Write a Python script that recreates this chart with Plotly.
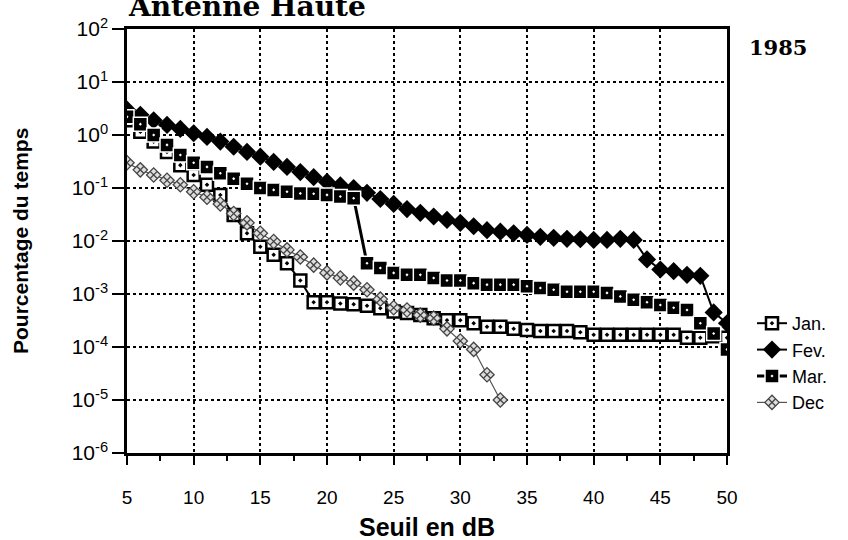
import plotly.graph_objects as go

seuil = list(range(5, 51))
seuil_dec = list(range(5, 34))

jan = [1.9, 1.15, 0.75, 0.48, 0.27, 0.176, 0.115, 0.074, 0.031, 0.014,
       0.0078, 0.0055, 0.0038, 0.0018, 0.0007, 0.0007, 0.00066, 0.00064, 0.0006, 0.00054,
       0.00047, 0.00044, 0.0004, 0.00035, 0.00032, 0.00032, 0.00028, 0.00024, 0.00024, 0.00022,
       0.00021, 0.0002, 0.0002, 0.0002, 0.00019, 0.00017, 0.00017, 0.00017, 0.00017, 0.00017,
       0.00017, 0.00017, 0.00015, 0.00015, 0.00016, 0.00015]

fev = [3.0, 2.4, 1.9, 1.55, 1.3, 1.08, 0.92, 0.75, 0.6, 0.48,
       0.39, 0.31, 0.25, 0.2, 0.16, 0.13, 0.112, 0.1, 0.081, 0.062,
       0.05, 0.04, 0.034, 0.029, 0.025, 0.022, 0.019, 0.016, 0.015, 0.014,
       0.013, 0.012, 0.0115, 0.011, 0.0108, 0.0105, 0.0105, 0.011, 0.0105, 0.0045,
       0.0029, 0.0027, 0.0023, 0.0022, 0.00045, 0.00028]

mar = [2.2, 1.6, 1.0, 0.65, 0.42, 0.3, 0.25, 0.19, 0.15, 0.12,
       0.1, 0.092, 0.085, 0.079, 0.078, 0.074, 0.069, 0.064, 0.0038, 0.0031,
       0.0025, 0.0023, 0.0023, 0.002, 0.0018, 0.0018, 0.0016, 0.0015, 0.0015, 0.0015,
       0.0014, 0.0013, 0.0012, 0.0011, 0.0011, 0.0011, 0.00105, 0.0009, 0.00078, 0.0007,
       0.00062, 0.00055, 0.0005, 0.00028, 0.00018, 0.00009]

dec = [0.3, 0.22, 0.176, 0.14, 0.115, 0.085, 0.067, 0.05, 0.033, 0.022,
       0.014, 0.0098, 0.0068, 0.005, 0.0035, 0.0025, 0.002, 0.0016, 0.0012, 0.0008,
       0.00055, 0.0005, 0.0004, 0.00035, 0.00022, 0.00013, 0.00009, 0.00003, 0.00001]

ytick_vals = [1e-6, 1e-5, 1e-4, 1e-3, 1e-2, 1e-1, 1e0, 1e1, 1e2]
ytick_text = ["10<sup>-6</sup>", "10<sup>-5</sup>", "10<sup>-4</sup>", "10<sup>-3</sup>",
              "10<sup>-2</sup>", "10<sup>-1</sup>", "10<sup>0</sup>", "10<sup>1</sup>", "10<sup>2</sup>"]
xtick_vals = [5, 10, 15, 20, 25, 30, 35, 40, 45, 50]

SANS = "Liberation Sans, Arial, sans-serif"
SERIF = "DejaVu Serif, Liberation Serif, serif"

fig = go.Figure()
fig.add_trace(go.Scatter(
    x=seuil, y=jan, name="Jan.", mode="lines+markers",
    line=dict(color="black", width=2),
    marker=dict(symbol="square-dot", size=12, color="white", line=dict(color="black", width=2.5))))
fig.add_trace(go.Scatter(
    x=seuil, y=fev, name="Fev.", mode="lines+markers",
    line=dict(color="black", width=2),
    marker=dict(symbol="diamond", size=14, color="black", line=dict(color="black", width=0))))
fig.add_trace(go.Scatter(
    x=seuil, y=mar, name="Mar.", mode="lines+markers",
    line=dict(color="black", width=3),
    marker=dict(symbol="square-dot", size=14, color="black", line=dict(color="white", width=1.5))))
fig.add_trace(go.Scatter(
    x=seuil_dec, y=dec, name="Dec", mode="lines+markers",
    line=dict(color="#555555", width=1.2),
    marker=dict(symbol="diamond-x", size=11, color="#dddddd", line=dict(color="#444444", width=1.3))))

fig.update_layout(
    width=848, height=540,
    margin=dict(l=127, r=121, t=29, b=87),
    paper_bgcolor="white", plot_bgcolor="white",
    font=dict(family=SANS, size=18, color="black"),
    showlegend=True,
    legend=dict(x=1 + (752 - 727) / 600, y=1 - (305 - 29) / 424, xanchor="left", yanchor="top",
                font=dict(family=SANS, size=18, color="black"),
                bgcolor="rgba(0,0,0,0)", tracegroupgap=0, itemwidth=30),
    xaxis=dict(range=[5, 50], tickvals=xtick_vals, ticks="outside", ticklen=9, tickwidth=2,
               tickcolor="black", showline=True, linecolor="black", linewidth=2.5, mirror=True,
               showgrid=True, gridcolor="black", gridwidth=1.5, griddash="dot",
               ticklabelstandoff=16, zeroline=False,
               tickfont=dict(family=SANS, size=19),
               minor=dict(dtick=2.5, tick0=5, ticks="outside", ticklen=5, tickwidth=2,
                          tickcolor="black", showgrid=False)),
    yaxis=dict(type="log", range=[-6, 2], tickvals=ytick_vals, ticktext=ytick_text,
               ticks="outside", ticklen=12, tickwidth=2, tickcolor="black",
               showline=True, linecolor="black", linewidth=2.5, mirror=True,
               showgrid=True, gridcolor="black", gridwidth=1.5, griddash="dot",
               zeroline=False, tickfont=dict(family=SANS, size=21)),
)

fig.add_annotation(text="<b>Antenne Haute</b>", xref="paper", yref="paper",
                   x=0.0, y=1 + (29 - 24) / 424, xanchor="left", yanchor="bottom",
                   showarrow=False, borderpad=0,
                   font=dict(family=SERIF, size=28, color="black"))
fig.add_annotation(text="<b>1985</b>", xref="paper", yref="paper",
                   x=1 + (747 - 727) / 600, y=1 - (47 - 29) / 424, xanchor="left", yanchor="middle",
                   showarrow=False, font=dict(family=SERIF, size=21, color="black"))
fig.add_annotation(text="<b>Pourcentage du temps</b>", xref="paper", yref="paper",
                   x=(20 - 127) / 600, y=0.5, xanchor="center", yanchor="middle",
                   textangle=-90, showarrow=False, font=dict(family=SANS, size=21, color="black"))
fig.add_annotation(text="<b>Seuil en dB</b>", xref="paper", yref="paper",
                   x=0.5, y=-(527 - 453) / 424, xanchor="center", yanchor="middle",
                   showarrow=False, font=dict(family=SANS, size=25, color="black"))

fig.write_html("out.html", config={"displayModeBar": False},
               post_script="document.body.style.margin='0px';")
